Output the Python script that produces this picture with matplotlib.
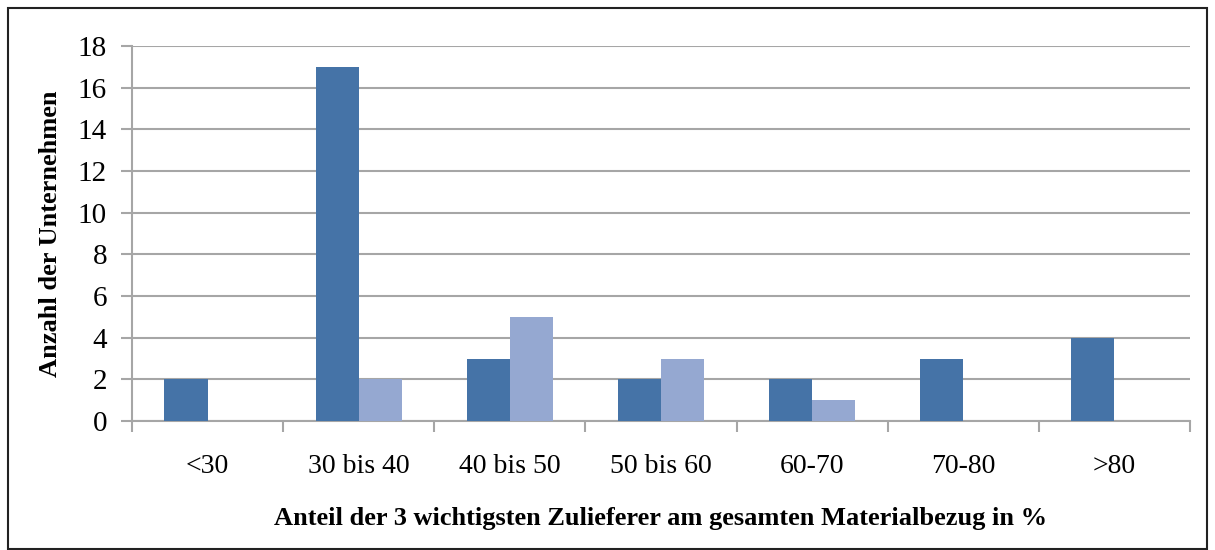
import numpy as np
import matplotlib
matplotlib.use('Agg')
import matplotlib.pyplot as plt
from matplotlib.patches import Rectangle

categories = ['<30', '30 bis 40', '40 bis 50', '50 bis 60', '60-70', '70-80', '>80']
series_a = [2, 17, 3, 2, 2, 3, 4]
series_b = [0, 2, 5, 3, 1, 0, 0]

plt.rcParams['font.family'] = ['Liberation Serif', 'DejaVu Serif']

dark_blue = '#4573A7'
light_blue = '#95A8D1'
grid_gray = '#A6A6A6'

fig = plt.figure(figsize=(12.15, 5.5), dpi=100)
ax = fig.add_axes([132 / 1215, 1 - 421 / 550, (1190 - 132) / 1215, (421 - 46) / 550])

x = np.arange(len(categories))
w = 0.285
ax.bar(x - w / 2, series_a, width=w, color=dark_blue, zorder=3)
ax.bar(x + w / 2, series_b, width=w, color=light_blue, zorder=3)

ax.set_xlim(-0.5, len(categories) - 0.5)
ax.set_ylim(0, 18)
ax.set_yticks(range(0, 19, 2))
ax.yaxis.grid(True, color=grid_gray, linewidth=1.5, zorder=0)

ax.set_xticks(np.arange(-0.5, len(categories), 1.0))
ax.set_xticklabels([])
ax.set_xticks(x, minor=True)
ax.set_xticklabels(categories, minor=True)
ax.tick_params(axis='x', which='major', direction='out', length=8, width=1.5, color=grid_gray)
ax.tick_params(axis='x', which='minor', length=0, pad=24, labelsize=20)
ax.tick_params(axis='y', direction='out', length=8, width=1.5, color=grid_gray, labelsize=21, pad=10)

for side in ['top', 'right']:
    ax.spines[side].set_visible(False)
for side in ['left', 'bottom']:
    ax.spines[side].set_color(grid_gray)
    ax.spines[side].set_linewidth(1.5)

ax.set_xlabel('Anteil der 3 wichtigsten Zulieferer am gesamten Materialbezug in %',
              fontsize=19, fontweight='bold', labelpad=20)
ax.set_ylabel('Anzahl der Unternehmen', fontsize=19, fontweight='bold', labelpad=11)

fig.patches.append(Rectangle((8 / 1215, 1 / 550), 1199 / 1215, 541 / 550,
                             transform=fig.transFigure, fill=False,
                             edgecolor='#222222', linewidth=1.5))

fig.savefig('out.png', dpi=100)
